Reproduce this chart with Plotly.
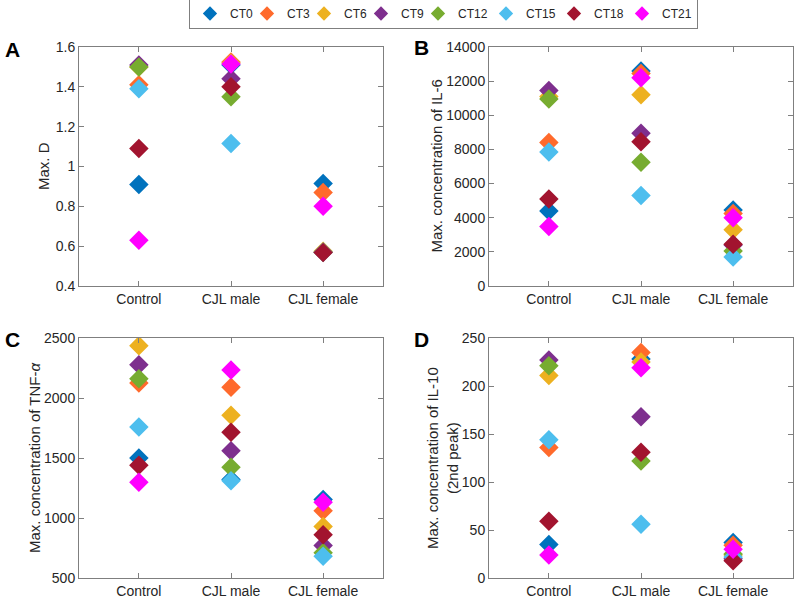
import plotly.graph_objects as go

groups = ["Control", "CJL male", "CJL female"]
cts = ["CT0", "CT3", "CT6", "CT9", "CT12", "CT15", "CT18", "CT21"]
colors = ["#0072BD", "#FF6A2C", "#EDB120", "#7E2F8E", "#77AC30", "#4DBEEE", "#A2142F", "#FF00FF"]

# values per CT: [Control, CJL male, CJL female]
max_d = [
    [0.91, 1.51, 0.915],
    [1.41, 1.525, 0.87],
    [1.50, 1.52, 0.575],
    [1.51, 1.44, 0.57],
    [1.50, 1.35, 0.57],
    [1.39, 1.115, 0.57],
    [1.09, 1.40, 0.568],
    [0.63, 1.515, 0.80],
]
il6 = [
    [4400, 12600, 4450],
    [8400, 12450, 4250],
    [11100, 11200, 3300],
    [11450, 8950, 2400],
    [10950, 7250, 2050],
    [7850, 5300, 1700],
    [5100, 8450, 2450],
    [3480, 12200, 4000],
]
tnf = [
    [1500, 1320, 1155],
    [2125, 2090, 1060],
    [2436, 1856, 930],
    [2278, 1561, 770],
    [2161, 1422, 710],
    [1758, 1311, 681],
    [1439, 1714, 861],
    [1297, 2233, 1131],
]
il10 = [
    [35, 228, 37],
    [136, 235, 34],
    [211, 225, 24],
    [227, 168, 20],
    [221, 122, 25],
    [144, 56, 22],
    [59, 131, 18],
    [24, 219, 30],
]

panels = [
    ("A", max_d, "Max. D", [0.4, 1.6], 0.2),
    ("B", il6, "Max. concentration of IL-6", [0, 14000], 2000),
    ("C", tnf, "Max. concentration of TNF-<i>α</i>", [500, 2500], 500),
    ("D", il10, "Max. concentration of IL-10<br>(2nd peak)", [0, 250], 50),
]

W, H = 800, 598
# axes boxes in pixels: (left, right, top, bottom)
boxes = [(79, 383, 47, 286), (489, 793, 47, 286), (79, 383, 338, 578), (489, 793, 338, 578)]
title_x = [43.5, 436, 34, 442]
label_pos = [(12, 49), (421, 48), (12, 339), (421, 339)]

FONT = "Liberation Sans, Arial, Helvetica, sans-serif"
TXT = "#262626"
AX = "#7f7f7f"

fig = go.Figure()
xnums = [1, 2, 3]
for p, (lab, data, ytitle, yr, dt) in enumerate(panels):
    sfx = "" if p == 0 else str(p + 1)
    for i, ct in enumerate(cts):
        fig.add_trace(go.Scatter(
            x=xnums, y=data[i], mode="markers", name=ct,
            marker=dict(symbol="diamond", size=15, color=colors[i], line=dict(width=0)),
            xaxis="x" + sfx, yaxis="y" + sfx, showlegend=False,
        ))
    l, r, t, b = boxes[p]
    axcommon = dict(showline=True, linecolor=AX, linewidth=1, mirror="allticks",
                    ticks="inside", ticklen=5, tickcolor=AX, showgrid=False, zeroline=False,
                    tickfont=dict(size=14, color=TXT, family=FONT))
    fig.layout["xaxis" + sfx] = dict(domain=[l / W, r / W], range=[0.35, 3.65],
                                     tickvals=xnums, ticktext=groups,
                                     anchor="y" + sfx, **axcommon)
    fig.layout["yaxis" + sfx] = dict(domain=[1 - b / H, 1 - t / H], range=yr, dtick=dt,
                                     tick0=yr[0], tickformat="d" if dt >= 1 else None,
                                     anchor="x" + sfx, **axcommon)
    fig.add_annotation(text=ytitle, x=title_x[p] / W, y=1 - (t + b) / 2 / H,
                       xref="paper", yref="paper", textangle=-90, showarrow=False,
                       xanchor="center", yanchor="middle",
                       font=dict(size=15, color=TXT, family=FONT))
    fig.add_annotation(text="<b>%s</b>" % lab, x=label_pos[p][0] / W, y=1 - label_pos[p][1] / H,
                       xref="paper", yref="paper", showarrow=False,
                       xanchor="center", yanchor="middle",
                       font=dict(size=21, color="#000000", family=FONT))

# legend entries
for i, ct in enumerate(cts):
    lw = None if i == len(cts) - 1 else (12 if len(ct) == 3 else 23)
    fig.add_trace(go.Scatter(
        x=[None], y=[None], mode="markers", name=ct,
        marker=dict(symbol="diamond", size=11, color=colors[i], line=dict(width=0)),
        showlegend=True, legendwidth=lw,
    ))

fig.update_layout(
    width=W, height=H,
    margin=dict(l=0, r=0, t=0, b=0, autoexpand=False),
    paper_bgcolor="white", plot_bgcolor="white",
    font=dict(family=FONT, color=TXT),
    legend=dict(orientation="h", x=443.5 / W, y=1 + 2 / H, xanchor="center", yanchor="top",
                bordercolor=AX, borderwidth=1, bgcolor="white",
                font=dict(size=12, color=TXT, family=FONT), itemwidth=30,
                tracegroupgap=0),
)

fig.write_html("out.html", config={"displayModeBar": False},
               post_script="document.body.style.margin='0px';document.body.style.overflow='hidden';")
